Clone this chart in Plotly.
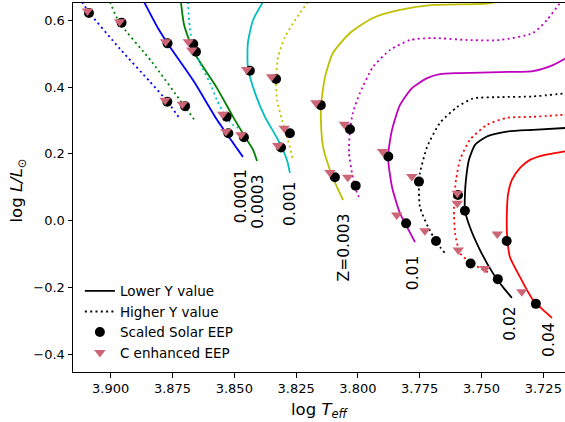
import plotly.graph_objects as go

# ---------------- data (log Teff, log L/Lsun) ----------------
# Z = 0.0001
teff_0001_lo = [3.8865, 3.8809, 3.8760, 3.8667, 3.8570, 3.8505, 3.8485, 3.8465]
logl_0001_lo = [0.655, 0.577, 0.520, 0.421, 0.302, 0.233, 0.212, 0.191]
teff_0001_hi = [3.9116, 3.9092, 3.8962, 3.8841, 3.8772, 3.8720]
logl_0001_hi = [0.655, 0.628, 0.514, 0.416, 0.358, 0.305]
# Z = 0.0003
teff_0003_lo = [3.8716, 3.8703, 3.8667, 3.8639, 3.8570, 3.8505, 3.8449, 3.8424, 3.8408]
logl_0003_lo = [0.655, 0.586, 0.511, 0.475, 0.397, 0.311, 0.242, 0.212, 0.179]
teff_0003_hi = [3.9003, 3.8966, 3.8833, 3.8708, 3.8655]
logl_0003_hi = [0.655, 0.595, 0.475, 0.349, 0.296]
# Z = 0.001
teff_001_lo = [3.8384, 3.8424, 3.8445, 3.8445, 3.8416, 3.8376, 3.8323, 3.8287, 3.8275]
logl_001_lo = [0.655, 0.601, 0.532, 0.460, 0.382, 0.311, 0.242, 0.182, 0.143]
teff_001_hi = [3.8687, 3.8683, 3.8671, 3.8639, 3.8598, 3.8570, 3.8534, 3.8505, 3.8485]
logl_001_hi = [0.655, 0.601, 0.535, 0.472, 0.412, 0.361, 0.311, 0.287, 0.278]
# Z = 0.003
teff_003_lo = [3.7263, 3.7425, 3.7494, 3.7696, 3.7830, 3.7939, 3.8032, 3.8101,
               3.8133, 3.8149, 3.8149, 3.8141, 3.8113, 3.8085, 3.8060]
logl_003_lo = [0.658, 0.655, 0.649, 0.646, 0.631, 0.607, 0.562, 0.502,
               0.430, 0.346, 0.287, 0.221, 0.152, 0.101, 0.062]
teff_003_hi = [3.8202, 3.8254, 3.8295, 3.8323, 3.8331, 3.8327, 3.8307, 3.8283, 3.8263]
logl_003_hi = [0.655, 0.601, 0.550, 0.490, 0.421, 0.361, 0.302, 0.242, 0.182]
# Z = 0.01
teff_01_lo = [3.7150, 3.7211, 3.7292, 3.7425, 3.7587, 3.7668, 3.7720, 3.7781,
              3.7830, 3.7862, 3.7878, 3.7862, 3.7830, 3.7801, 3.7769]
logl_01_lo = [0.490, 0.466, 0.448, 0.445, 0.442, 0.439, 0.427, 0.397,
              0.346, 0.272, 0.191, 0.101, 0.023, -0.019, -0.064]
teff_01_hi = [3.7170, 3.7182, 3.7235, 3.7292, 3.7425, 3.7559, 3.7696, 3.7789, 3.7870,
              3.7939, 3.7992, 3.8020, 3.8032, 3.8036, 3.8024, 3.8012, 3.7996]
logl_01_hi = [0.661, 0.652, 0.601, 0.562, 0.541, 0.541, 0.547, 0.541, 0.511,
              0.460, 0.382, 0.323, 0.272, 0.203, 0.143, 0.101, 0.071]
# Z = 0.02
teff_02_lo = [3.7150, 3.7292, 3.7397, 3.7478, 3.7526, 3.7551, 3.7563, 3.7567,
              3.7567, 3.7547, 3.7506, 3.7454, 3.7413, 3.7377]
logl_02_lo = [0.278, 0.272, 0.267, 0.252, 0.227, 0.182, 0.122, 0.077,
              0.032, -0.019, -0.088, -0.157, -0.199, -0.231]
teff_02_hi = [3.7150, 3.7292, 3.7425, 3.7534, 3.7599, 3.7668, 3.7720, 3.7749,
              3.7753, 3.7749, 3.7716, 3.7680, 3.7648]
logl_02_hi = [0.382, 0.372, 0.370, 0.366, 0.340, 0.293, 0.221, 0.143,
              0.116, 0.041, -0.019, -0.067, -0.097]
# Z = 0.04
teff_04_lo = [3.7150, 3.7243, 3.7304, 3.7344, 3.7377, 3.7393, 3.7397, 3.7397,
              3.7385, 3.7344, 3.7292, 3.7251, 3.7215]
logl_04_lo = [0.209, 0.197, 0.182, 0.158, 0.122, 0.077, 0.032, -0.037,
              -0.109, -0.169, -0.237, -0.267, -0.291]
teff_04_hi = [3.7150, 3.7292, 3.7397, 3.7478, 3.7547, 3.7587, 3.7603, 3.7611,
              3.7611, 3.7607, 3.7587, 3.7547, 3.7506, 3.7474]
logl_04_hi = [0.318, 0.311, 0.308, 0.287, 0.242, 0.182, 0.122, 0.062,
              0.017, -0.037, -0.097, -0.124, -0.142, -0.154]

# Scaled solar EEPs (circles)
eep_solar_teff = [3.9088, 3.8771, 3.8956, 3.8699, 3.8770, 3.8524, 3.8666, 3.8531,
                  3.8655, 3.8461, 3.8437, 3.8311, 3.8331, 3.8275, 3.8150, 3.8093,
                  3.8032, 3.8009, 3.7877, 3.7805, 3.7753, 3.7684, 3.7595, 3.7544,
                  3.7567, 3.7434, 3.7398, 3.7280]
eep_solar_logl = [0.622, 0.356, 0.593, 0.343, 0.531, 0.262, 0.529, 0.311,
                  0.506, 0.250, 0.449, 0.219, 0.424, 0.262, 0.346, 0.130,
                  0.274, 0.105, 0.192, -0.008, 0.117, -0.061, 0.077, -0.128,
                  0.030, -0.175, -0.061, -0.249]
# C enhanced EEPs (triangles)
eep_c_teff = [3.9094, 3.8780, 3.8964, 3.8710, 3.8778, 3.8534, 3.8686, 3.8547,
              3.8672, 3.8473, 3.8450, 3.8324, 3.8349, 3.8298, 3.8170, 3.8113,
              3.8055, 3.8041, 3.7900, 3.7843, 3.7782, 3.7729, 3.7598, 3.7594,
              3.7598, 3.7486, 3.7436, 3.7337]
eep_c_logl = [0.628, 0.361, 0.596, 0.349, 0.536, 0.267, 0.536, 0.319,
              0.511, 0.257, 0.453, 0.225, 0.431, 0.277, 0.353, 0.144,
              0.289, 0.130, 0.207, 0.017, 0.132, -0.030, 0.082, -0.088,
              0.052, -0.143, -0.040, -0.213]

# metallicity labels
z_labels = ["0.0001", "0.0003", "0.001", "Z=0.003", "0.01", "0.02", "0.04"]
z_label_teff = [3.8474, 3.8404, 3.8275, 3.8056, 3.7774, 3.7385, 3.7227]
z_label_logl = [0.072, 0.057, 0.050, -0.080, -0.155, -0.306, -0.354]

x_ticks = [3.900, 3.875, 3.850, 3.825, 3.800, 3.775, 3.750, 3.725]
y_ticks = [-0.4, -0.2, 0.0, 0.2, 0.4, 0.6]

# ---------------- styles ----------------
LW = 1.8
DOT = "2px,3.3px"
curves = [
    (teff_0001_lo, logl_0001_lo, "#0000ff", "solid"),
    (teff_0001_hi, logl_0001_hi, "#0000ff", DOT),
    (teff_0003_lo, logl_0003_lo, "#008000", "solid"),
    (teff_0003_hi, logl_0003_hi, "#008000", DOT),
    (teff_001_lo, logl_001_lo, "#00bfbf", "solid"),
    (teff_001_hi, logl_001_hi, "#00bfbf", DOT),
    (teff_003_lo, logl_003_lo, "#bfbf00", "solid"),
    (teff_003_hi, logl_003_hi, "#bfbf00", DOT),
    (teff_01_lo, logl_01_lo, "#bf00bf", "solid"),
    (teff_01_hi, logl_01_hi, "#bf00bf", DOT),
    (teff_02_lo, logl_02_lo, "#000000", "solid"),
    (teff_02_hi, logl_02_hi, "#000000", DOT),
    (teff_04_lo, logl_04_lo, "#ff0000", "solid"),
    (teff_04_hi, logl_04_hi, "#ff0000", DOT),
]

fig = go.Figure()

# legend-only line entries
fig.add_trace(go.Scatter(x=[None], y=[None], mode="lines", name="Lower Y value",
                         line=dict(color="black", width=LW)))
fig.add_trace(go.Scatter(x=[None], y=[None], mode="lines", name="Higher Y value",
                         line=dict(color="black", width=LW, dash=DOT)))

for tx, ly, col, dash in curves:
    fig.add_trace(go.Scatter(x=tx, y=ly, mode="lines", showlegend=False,
                             line=dict(color=col, width=LW, dash=dash, shape="spline", smoothing=0.6),
                             hoverinfo="skip"))

fig.add_trace(go.Scatter(x=eep_solar_teff, y=eep_solar_logl, mode="markers",
                         name="Scaled Solar EEP",
                         marker=dict(symbol="circle", size=10, color="black", line=dict(width=0))))
fig.add_trace(go.Scatter(x=eep_c_teff, y=eep_c_logl, mode="markers",
                         name="C enhanced EEP",
                         marker=dict(symbol="triangle-down", size=10, color="#cc6677",
                                     line=dict(width=0))))

annotations = []
for txt, tx, ly in zip(z_labels, z_label_teff, z_label_logl):
    annotations.append(dict(x=tx, y=ly, xref="x", yref="y", text=txt, showarrow=False,
                            textangle=-90, xanchor="center", yanchor="middle",
                            font=dict(family="DejaVu Sans", size=15.5, color="black")))
annotations.append(dict(x=0.502, y=-0.103, xref="paper", yref="paper",
                        text="log <i>T<sub>eff</sub></i>", showarrow=False,
                        xanchor="center", yanchor="middle",
                        font=dict(family="DejaVu Sans", size=16.5, color="black")))
annotations.append(dict(x=-0.113, y=0.493, xref="paper", yref="paper",
                        text="log <i>L/L</i><sub>⊙</sub>", showarrow=False, textangle=-90,
                        xanchor="center", yanchor="middle",
                        font=dict(family="DejaVu Sans", size=16.5, color="black")))

axis_common = dict(ticks="outside", ticklen=4.5, tickwidth=1, tickcolor="black",
                   showline=True, linecolor="black", linewidth=1, mirror=True,
                   showgrid=False, zeroline=False,
                   tickfont=dict(family="DejaVu Sans", size=13, color="black"))

fig.update_layout(
    width=565, height=422,
    margin=dict(l=73, r=0, t=3, b=50),
    paper_bgcolor="white", plot_bgcolor="white",
    font=dict(family="DejaVu Sans", size=13, color="black"),
    showlegend=True,
    hovermode=False,
    legend=dict(x=0.014, y=0.009, xanchor="left", yanchor="bottom",
                bgcolor="rgba(0,0,0,0)", borderwidth=0,
                font=dict(family="DejaVu Sans", size=13.5, color="black")),
    xaxis=dict(range=[3.91525, 3.71622], tickvals=x_ticks, tickformat=".3f", **axis_common),
    yaxis=dict(range=[-0.4530, 0.6518], tickvals=y_ticks, tickformat=".1f", **axis_common),
    annotations=annotations,
)

fig.write_html("out.html", config={"displayModeBar": False},
               post_script="document.body.style.margin='0px';document.body.style.overflow='hidden';")
